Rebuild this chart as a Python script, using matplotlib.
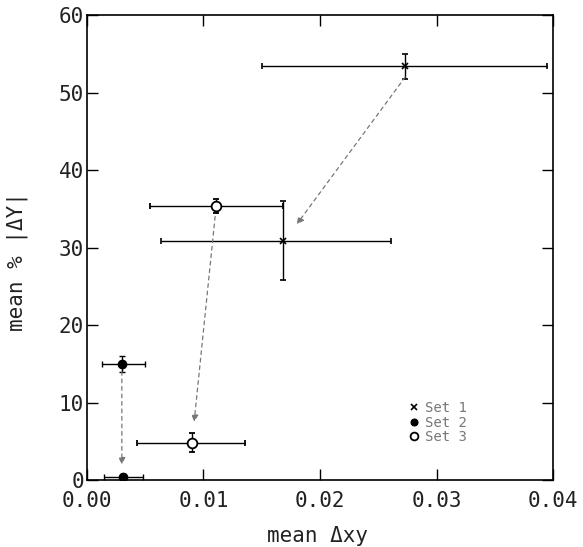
import matplotlib
matplotlib.use("Agg")
import matplotlib.pyplot as plt

plt.rcParams["font.family"] = ["DejaVu Sans Mono", "DejaVu Sans"]

# Set 1 (x markers)
set1_x = [0.0273, 0.0168]
set1_y = [53.4, 30.9]
set1_xlo = [0.0150, 0.0064]
set1_xhi = [0.0395, 0.0261]
set1_ylo = [51.8, 25.8]
set1_yhi = [55.0, 36.0]

# Set 2 (filled circles)
set2_x = [0.0030, 0.0031]
set2_y = [15.0, 0.4]
set2_xlo = [0.0013, 0.0015]
set2_xhi = [0.0050, 0.0048]
set2_ylo = [14.0, 0.0]
set2_yhi = [16.0, 0.8]

# Set 3 (open circles)
set3_x = [0.0111, 0.0090]
set3_y = [35.3, 4.8]
set3_xlo = [0.0054, 0.0043]
set3_xhi = [0.0168, 0.0136]
set3_ylo = [34.4, 3.6]
set3_yhi = [36.3, 6.0]

# arrows: start point -> arrow tip
arrows = [
    ((0.0273, 52.0), (0.0180, 33.0)),
    ((0.0110, 34.0), (0.0092, 7.5)),
    ((0.0030, 14.0), (0.0030, 2.0)),
]


def errs(x, y, xlo, xhi, ylo, yhi):
    xe = [[a - b for a, b in zip(x, xlo)], [b - a for a, b in zip(x, xhi)]]
    ye = [[a - b for a, b in zip(y, ylo)], [b - a for a, b in zip(y, yhi)]]
    return xe, ye


fig = plt.figure(figsize=(5.83, 5.47), dpi=100)
ax = fig.add_axes([0.149, 0.1225, 0.80, 0.85])

for (x0, y0), (x1, y1) in arrows:
    ax.annotate("", xy=(x1, y1), xytext=(x0, y0),
                arrowprops=dict(arrowstyle="-|>", linestyle=(0, (3, 3)),
                                color="#777777", lw=0.9, mutation_scale=10,
                                shrinkA=0, shrinkB=0))

kw = dict(color="black", elinewidth=1.0, capsize=2.5, capthick=1.0, linestyle="none")
xe, ye = errs(set1_x, set1_y, set1_xlo, set1_xhi, set1_ylo, set1_yhi)
ax.errorbar(set1_x, set1_y, xerr=xe, yerr=ye, marker="x", markersize=5,
            mew=1.2, mfc="black", mec="black", label="Set 1", **kw)
xe, ye = errs(set2_x, set2_y, set2_xlo, set2_xhi, set2_ylo, set2_yhi)
ax.errorbar(set2_x, set2_y, xerr=xe, yerr=ye, marker="o", markersize=6,
            mfc="black", mec="black", label="Set 2", **kw)
xe, ye = errs(set3_x, set3_y, set3_xlo, set3_xhi, set3_ylo, set3_yhi)
ax.errorbar(set3_x, set3_y, xerr=xe, yerr=ye, marker="o", markersize=7,
            mew=1.3, mfc="white", mec="black", label="Set 3", **kw)

ax.set_xlim(0, 0.04)
ax.set_ylim(0, 60)
ax.set_xticks([0.0, 0.01, 0.02, 0.03, 0.04])
ax.set_xticklabels(["0.00", "0.01", "0.02", "0.03", "0.04"])
ax.set_yticks([0, 10, 20, 30, 40, 50, 60])
ax.tick_params(direction="in", length=8, width=1.0, top=True, right=True,
               labelsize=15, colors="black", labelcolor="#222222")
ax.tick_params(axis="x", pad=8)
ax.tick_params(axis="y", pad=2)
for s in ax.spines.values():
    s.set_linewidth(1.2)

ax.set_xlabel("mean \u0394xy", fontsize=15, color="#222222")
ax.set_ylabel("mean % |\u0394Y|", fontsize=15, color="#222222")
ax.xaxis.set_label_coords(0.494, -0.10)
ax.yaxis.set_label_coords(-0.126, 0.47)

handles, labels = ax.get_legend_handles_labels()
handles = [h[0] for h in handles]
leg = ax.legend(handles, labels, loc="lower left", bbox_to_anchor=(0.66, 0.05),
                frameon=False, fontsize=10, handletextpad=0.3, labelspacing=0.05,
                handlelength=1.0, markerscale=0.8)
for t in leg.get_texts():
    t.set_color("#777777")

fig.savefig("out.png", dpi=100)
